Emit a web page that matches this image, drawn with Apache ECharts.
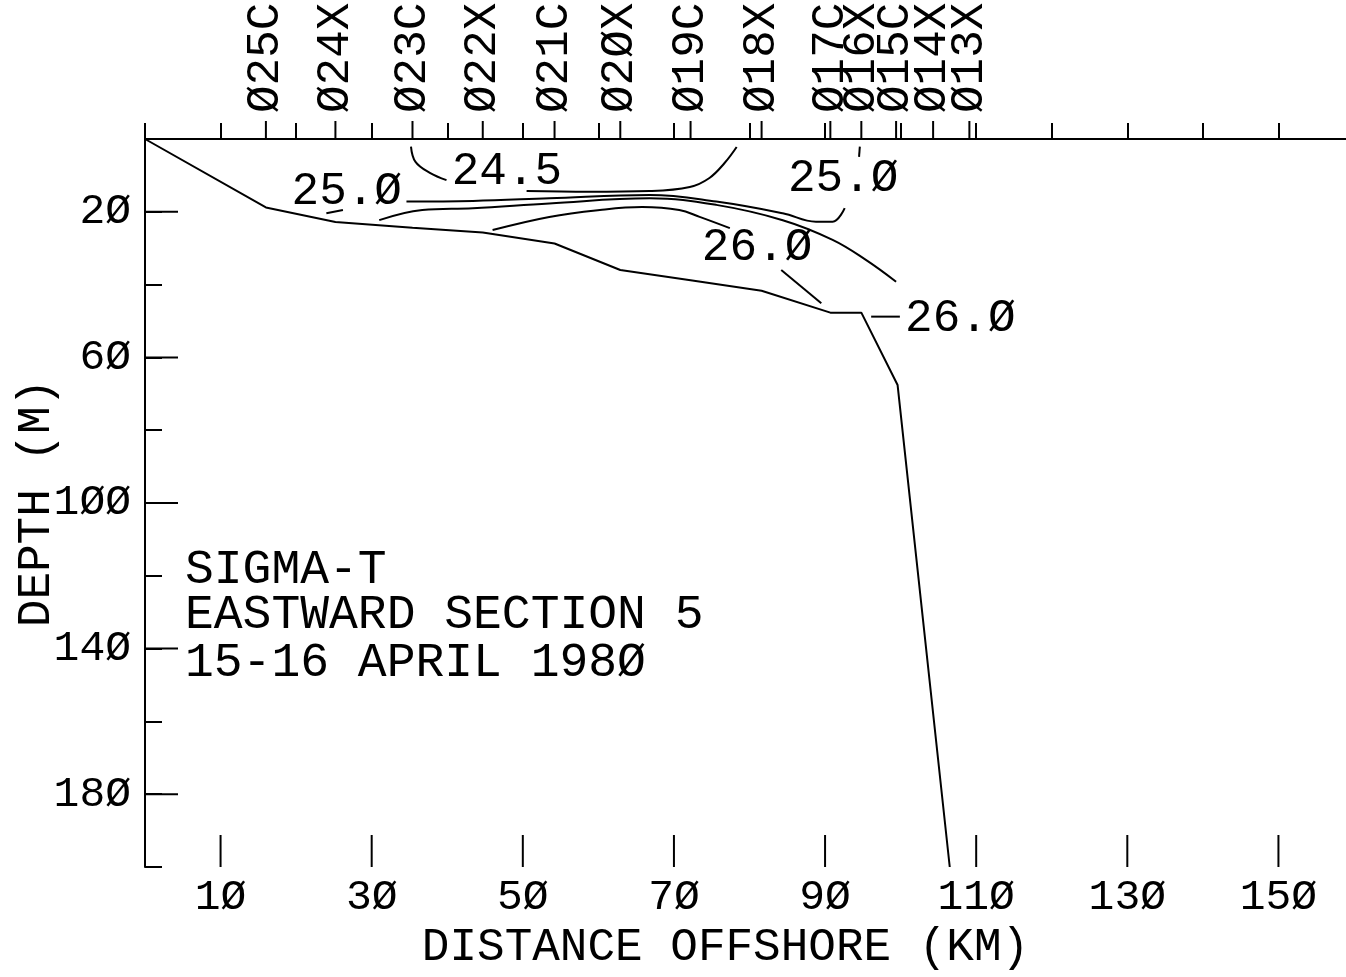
<!DOCTYPE html>
<html>
<head>
<meta charset="utf-8">
<script src="https://cdn.jsdelivr.net/npm/echarts@6/dist/echarts.min.js"></script>
<style>
html,body{margin:0;padding:0;background:#fff}
#chart{width:1346px;height:977px}
</style>
</head>
<body>
<div id="chart"></div>
<script>
// 站位 km / 名称
var stationKm = [16.0, 25.2, 35.4, 44.7, 54.2, 62.9, 72.2, 81.6, 90.7, 94.8, 99.4, 104.3, 109.1];
var stationName = ['025C','024X','023C','022X','021C','020X','019C','018X','017C','016X','015C','014X','013X'];

// 刻度标签
var xTickLabels = [10, 30, 50, 70, 90, 110, 130, 150];
var yTickLabels = [20, 60, 100, 140, 180];

// 海底剖面 (km, m)
var bottomKm    = [0, 16.0, 25.2, 35.4, 44.7, 54.2, 62.9, 72.2, 81.6, 90.7, 94.8, 99.6, 106.5];
var bottomDepth = [0, 18.8, 22.8, 24.4, 25.7, 28.7, 36.0, 38.8, 41.7, 47.7, 47.7, 67.6, 200];

// 等密度线 sigma-t (分段, 标签处断开)
var iso245a = [[35.2,2.1],[35.8,6.3],[37.7,9.3],[39.9,11.3]];
var iso245b = [[50.5,14.3],[58.8,14.5],[66.8,14.3],[72.1,13.2],[74.7,10.7],[76.7,6.6],[78.3,2.2]];
var iso250a = [[24.0,20.4],[26.2,19.5]];
var iso250b = [[34.6,17.2],[43.4,17.0],[53.5,16.3],[66.8,15.4],[75.6,17.2],[84.4,20.4],[88.8,22.7],[91.0,22.7],[92.6,19.0]];
var iso255  = [[31.0,22.3],[36.7,19.5],[43.4,19.0],[53.5,17.7],[66.8,16.3],[75.6,18.1],[84.4,22.3],[91.0,27.7],[95.4,33.2],[99.4,39.2]];
var iso260a = [[46.0,25.0],[53.5,21.4],[60.2,19.5],[65.8,18.7],[70.7,19.5],[73.4,21.4],[77.4,24.5]];
var iso260b = [[84.2,36.0],[89.5,45.1]];
var iso260c = [[96.1,48.8],[99.9,48.8]];
var isoMark = [[94.6,2.1],[94.5,4.9]];

// 等值线标签
var isoLabelPos  = [[47.9,9.0],[26.7,14.5],[92.4,11.0],[81.0,29.8],[107.9,49.3]];
var isoLabelText = ['24.5','25.0','25.0','26.0','26.0'];

var titleLines = ['SIGMA-T', 'EASTWARD SECTION 5', '15-16 APRIL 1980'];

var FAMILY = '"Liberation Mono", "DejaVu Sans Mono", monospace';
var FONT = '46px ' + FAMILY;

function slash(s) {
    return String(s).replace(/0/g, 'Ø');
}
function isoLine(data) {
    return {
        type: 'line',
        data: data,
        symbol: 'none',
        smooth: 0.4,
        silent: true,
        lineStyle: { color: '#000', width: 2 }
    };
}

var container = echarts.init(document.getElementById('chart'));

var bottomData = [];
for (var i = 0; i < bottomKm.length; i++) {
    bottomData.push([bottomKm[i], bottomDepth[i]]);
}

var option = {
    animation: false,
    backgroundColor: '#fff',
    grid: { left: 145, top: 139, right: -8, bottom: 110, containLabel: false, outerBoundsMode: 'none' },
    xAxis: [
        {
            type: 'value',
            min: 0,
            max: 160,
            interval: 10,
            position: 'bottom',
            axisLine: { lineStyle: { color: '#000', width: 2 } },
            axisTick: { inside: true, length: 16, lineStyle: { color: '#000', width: 2 } },
            axisLabel: {
                margin: 9,
                fontFamily: FAMILY,
                fontSize: 43,
                color: '#000',
                formatter: function (v) { return v % 20 === 10 ? slash(v) : ''; }
            },
            splitLine: { show: false },
            name: 'DISTANCE OFFSHORE (KM)',
            nameLocation: 'middle',
            nameGap: 58,
            nameMoveOverlap: false,
            nameTextStyle: {
                fontFamily: FAMILY,
                fontSize: 46,
                color: '#000',
                padding: [0, 48, 0, 0]
            }
        },
        {
            type: 'value',
            min: 0,
            max: 160,
            position: 'top',
            axisLine: { show: true, lineStyle: { color: '#000', width: 2 } },
            axisTick: { show: false },
            axisLabel: { show: false },
            splitLine: { show: false }
        }
    ],
    yAxis: {
        type: 'value',
        inverse: true,
        min: 0,
        max: 200,
        interval: 20,
        axisLine: { lineStyle: { color: '#000', width: 2 } },
        axisTick: { inside: true, length: 17, lineStyle: { color: '#000', width: 2 } },
        axisLabel: {
            margin: 14,
            fontFamily: FAMILY,
            fontSize: 43,
            color: '#000',
            formatter: function (v) { return v % 40 === 20 ? slash(v) : ''; }
        },
        splitLine: { show: false },
        name: 'DEPTH (M)',
        nameLocation: 'middle',
        nameRotate: 90,
        nameGap: 85,
        nameMoveOverlap: false,
        nameTextStyle: { fontFamily: FAMILY, fontSize: 46, color: '#000' }
    },
    graphic: titleLines.map(function (t, k) {
        return {
            type: 'text',
            x: 185,
            y: [570, 615, 663][k],
            style: { text: slash(t), font: '48px ' + FAMILY, fill: '#000', align: 'left', verticalAlign: 'middle' }
        };
    }),
    series: [
        {
            type: 'line',
            data: bottomData,
            symbol: 'none',
            silent: true,
            lineStyle: { color: '#000', width: 2 }
        },
        isoLine(iso245a),
        isoLine(iso245b),
        isoLine(iso250a),
        isoLine(iso250b),
        isoLine(iso255),
        isoLine(iso260a),
        isoLine(iso260b),
        isoLine(iso260c),
        isoLine(isoMark),
        {
            // 长刻度 x
            type: 'custom',
            coordinateSystem: 'cartesian2d',
            silent: true,
            clip: false,
            data: xTickLabels.map(function (v) { return [v, 200]; }),
            renderItem: function (params, api) {
                var p = api.coord([api.value(0), api.value(1)]);
                return { type: 'line', shape: { x1: p[0], y1: p[1], x2: p[0], y2: p[1] - 32 }, style: { stroke: '#000', lineWidth: 2 } };
            }
        },
        {
            // 长刻度 y
            type: 'custom',
            coordinateSystem: 'cartesian2d',
            silent: true,
            clip: false,
            data: yTickLabels.map(function (v) { return [0, v]; }),
            renderItem: function (params, api) {
                var p = api.coord([api.value(0), api.value(1)]);
                return { type: 'line', shape: { x1: p[0], y1: p[1], x2: p[0] + 33, y2: p[1] }, style: { stroke: '#000', lineWidth: 2 } };
            }
        },
        {
            // 站位
            type: 'custom',
            coordinateSystem: 'cartesian2d',
            silent: true,
            clip: false,
            data: stationKm.map(function (v) { return [v, 0]; }),
            renderItem: function (params, api) {
                var p = api.coord([api.value(0), api.value(1)]);
                return {
                    type: 'group',
                    children: [
                        { type: 'line', shape: { x1: p[0], y1: p[1], x2: p[0], y2: p[1] - 18 }, style: { stroke: '#000', lineWidth: 2 } },
                        {
                            type: 'text', x: p[0], y: p[1] - 26, rotation: Math.PI / 2,
                            style: { text: slash(stationName[params.dataIndex]), font: FONT, fill: '#000', align: 'left', verticalAlign: 'middle' }
                        }
                    ]
                };
            }
        },
        {
            // 等值线标签
            type: 'custom',
            coordinateSystem: 'cartesian2d',
            silent: true,
            clip: false,
            data: isoLabelPos,
            renderItem: function (params, api) {
                var p = api.coord([api.value(0), api.value(1)]);
                return {
                    type: 'text', x: p[0], y: p[1],
                    style: { text: slash(isoLabelText[params.dataIndex]), font: FONT, fill: '#000', align: 'center', verticalAlign: 'middle' }
                };
            }
        }
    ]
};

container.setOption(option);
</script>
</body>
</html>
